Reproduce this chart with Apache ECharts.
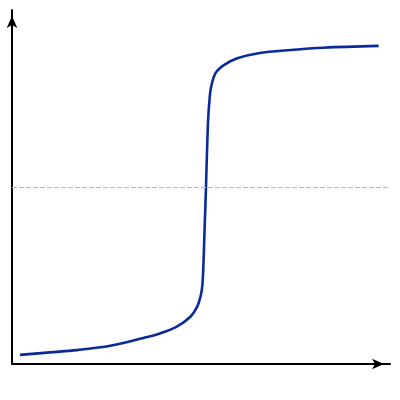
<!DOCTYPE html>
<html>
<head>
<meta charset="utf-8">
<script src="https://cdn.jsdelivr.net/npm/echarts@6/dist/echarts.min.js"></script>
<style>html,body{margin:0;padding:0;background:#fff;}#c{width:400px;height:400px;}</style>
</head>
<body>
<div id="c"></div>
<script>
const volume = [1.06, 5.0, 8.6, 13.0, 17.4, 19.6, 21.8, 23.6, 24.5, 24.93, 25.16, 25.3, 25.47, 25.65, 25.8, 25.95, 26.1, 26.3, 26.92, 28.02, 29.8, 32.6, 36.9, 41.2, 48.5];
const pH = [0.36, 0.46, 0.55, 0.72, 1.03, 1.21, 1.48, 1.87, 2.27, 2.66, 3.06, 3.75, 5.3, 6.9, 8.46, 9.7, 10.35, 10.9, 11.5, 11.82, 12.09, 12.29, 12.42, 12.51, 12.58];
const neutralLevel = 7;

const chart = echarts.init(document.getElementById('c'), null, {renderer: 'canvas'});
chart.setOption({
  animation: false,
  backgroundColor: '#ffffff',
  grid: {left: 12, right: 10, top: 10, bottom: 36},
  xAxis: {
    type: 'value', min: 0, max: 50,
    axisLine: {show: true, onZero: false, lineStyle: {color: '#000', width: 2},
      symbol: ['none', 'arrow'], symbolSize: [8, 12], symbolOffset: [0, -6]},
    axisTick: {show: false}, axisLabel: {show: false}, splitLine: {show: false}
  },
  yAxis: {
    type: 'value', min: 0, max: 14,
    axisLine: {show: true, onZero: false, lineStyle: {color: '#000', width: 2},
      symbol: ['none', 'arrow'], symbolSize: [8, 12], symbolOffset: [0, -6]},
    axisTick: {show: false}, axisLabel: {show: false}, splitLine: {show: false}
  },
  series: [{
    type: 'line',
    data: volume.map((v, i) => [v, pH[i]]),
    smooth: 0.35,
    showSymbol: false,
    lineStyle: {color: '#0a2a9a', width: 2.6},
    markLine: {
      silent: true, symbol: 'none', label: {show: false},
      lineStyle: {color: '#b8b8b8', width: 1.2, type: [5, 2]},
      data: [{yAxis: neutralLevel}]
    }
  }]
});
</script>
</body>
</html>
